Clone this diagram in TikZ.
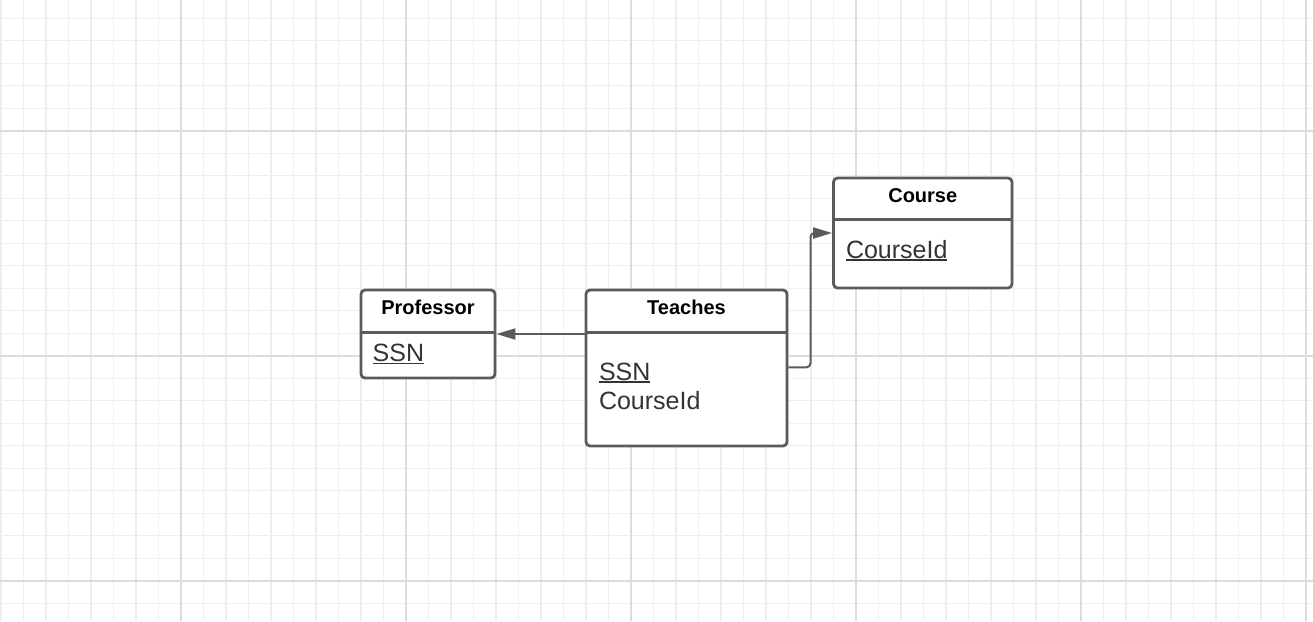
\documentclass[tikz,border=0pt]{standalone}
\usepackage{fontspec}
\setmainfont{Liberation Sans}
\usetikzlibrary{arrows.meta}
\definecolor{gridminor}{HTML}{F0F0F0}
\definecolor{gridmid}{HTML}{EDEDED}
\definecolor{gridmajor}{HTML}{DCDCDC}
\definecolor{edge}{HTML}{5B5B5B}
\definecolor{txt}{HTML}{333333}
% underlined key attribute
\newcommand\keyattr[1]{\setbox0\hbox{#1}\rlap{\rule[-2.6pt]{\wd0}{1.5pt}}\box0}
\tikzset{
  entity/.style={draw=edge, line width=2.8pt, rounded corners=4pt, fill=white, inner sep=0pt},
  divider/.style={draw=edge, line width=3pt},
  title/.style={anchor=base, inner sep=0pt, font=\fontsize{20pt}{23pt}\selectfont\bfseries, text=black},
  attr/.style={anchor=base west, inner sep=0pt, font=\fontsize{25pt}{29pt}\selectfont, text=txt},
  link/.style={draw=edge, line width=2pt, -{Triangle[length=19pt,width=11pt]}},
}
\begin{document}
\begin{tikzpicture}[x=1pt,y=-1pt]
\useasboundingbox (0,0) rectangle (1313,621);
\fill[white] (0,0) rectangle (1313,621);
% background grid
\foreach \i in {0,...,58} {
  \draw[gridminor, line width=1pt] ({1+22.5*\i},0) -- ({1+22.5*\i},621);
}
\foreach \i in {0,...,27} {
  \draw[gridminor, line width=1pt] (0,{18.2+22.5*\i}) -- (1313,{18.2+22.5*\i});
}
\foreach \i in {0,...,29} {
  \draw[gridmid, line width=1.2pt] ({1+45*\i},0) -- ({1+45*\i},621);
}
\foreach \i in {0,...,13} {
  \draw[gridmid, line width=1.2pt] (0,{40.7+45*\i}) -- (1313,{40.7+45*\i});
}
\foreach \x in {181,406,631,856,1081,1306} {
  \draw[gridmajor, line width=1.8pt] (\x,0) -- (\x,621);
}
\foreach \y in {130.7,355.7,580.7} {
  \draw[gridmajor, line width=1.8pt] (0,\y) -- (1313,\y);
}

% entities
\node[entity, minimum width=134pt, minimum height=88pt] (professor) at (428,334) {};
\node[entity, minimum width=201pt, minimum height=156pt] (teaches) at (686.5,368) {};
\node[entity, minimum width=178.5pt, minimum height=110pt] (course) at (922.75,233) {};

\draw[divider] (professor.west |- 0,332) -- (professor.east |- 0,332);
\draw[divider] (teaches.west |- 0,332) -- (teaches.east |- 0,332);
\draw[divider] (course.west |- 0,219) -- (course.east |- 0,219);

% titles
\node[title] (professorTitle) at (428,314.3) {Professor};
\node[title] (teachesTitle) at (686.5,314.3) {Teaches};
\node[title] (courseTitle) at (922.75,202.3) {Course};

% attributes
\node[attr] (profSSN) at (372.5,361.7) {\keyattr{SSN}};
\node[attr] (teachSSN) at (598.8,380) {\keyattr{SSN}};
\node[attr] (teachCourse) at (598.8,409.5) {CourseId};
\node[attr] (courseId) at (845.8,258.3) {\keyattr{CourseId}};

% relationships
\draw[link] (teaches.west |- professor.east) -- (professor.east);
\coordinate (bend) at (810.5,367.3);
\draw[link, rounded corners=4pt] (teaches.east |- bend) -- (bend) -- (bend |- course.west) -- (course.west);
\end{tikzpicture}
\end{document}
